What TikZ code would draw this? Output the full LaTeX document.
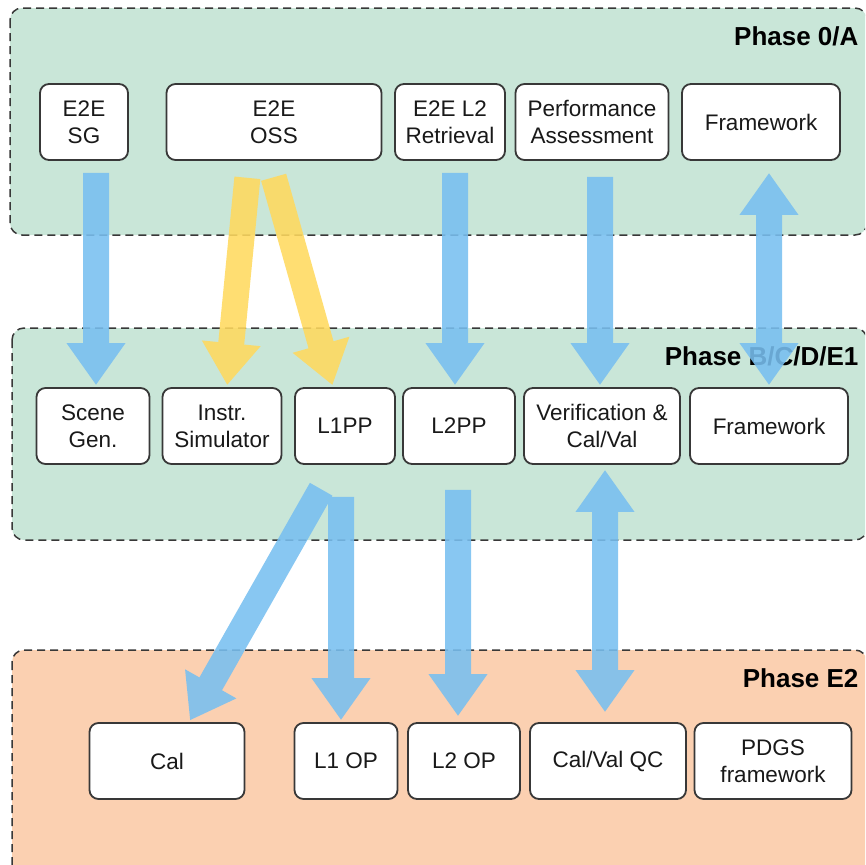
\documentclass[tikz,border=0pt]{standalone}
\usepackage{fontspec}
\setmainfont{Liberation Sans}
\usetikzlibrary{arrows.meta,calc}
\definecolor{phasegreen}{HTML}{C9E6D8}
\definecolor{phaseorange}{HTML}{FBD0B1}
\definecolor{flowblue}{HTML}{78BFF0}
\definecolor{flowyellow}{HTML}{FFD95E}
\definecolor{edgegray}{HTML}{383838}
\begin{document}
\begin{tikzpicture}[x=1pt,y=-1pt,
        phase/.style={draw=edgegray, line width=1.5pt, dash pattern=on 8pt off 5pt, rounded corners=12pt},
        block/.style={draw=edgegray, fill=white, line width=1.8pt, rounded corners=9pt, align=center,
            inner sep=0pt, minimum height=76pt, text=black!90, font=\fontsize{22.5}{27}\selectfont},
        phaselabel/.style={anchor=east, font=\fontsize{26}{30}\selectfont\bfseries},
        flow/.style={draw=flowblue, line width=26pt, shorten <=12pt, shorten >=2pt,
            -{Triangle[width=56pt,length=42pt]}},
        flowboth/.style={flow, {Triangle[width=56pt,length=42pt]}-{Triangle[width=56pt,length=42pt]}},
        sunny/.style={flow, draw=flowyellow, shorten <=17pt}]
            \useasboundingbox ( 0, 0 ) rectangle ( 865, 865 );
            \clip ( 0, 0 ) rectangle ( 865, 865 );

            % фазы
            \draw [phase, fill=phasegreen] ( 10, 8 ) rectangle ( 867, 235 );
            \draw [phase, fill=phasegreen] ( 12, 328 ) rectangle ( 867, 540 );
            \draw [phase, fill=phaseorange] ( 12, 650 ) rectangle ( 867, 885 );
            \node [phaselabel] (phaseA) at ( 862, 36 ) {Phase 0/A};
            \node [phaselabel] (phaseB) at ( 862, 356 ) {Phase B/C/D/E1};
            \node [phaselabel] (phaseE) at ( 862, 678 ) {Phase E2};

            % блоки 0/A
            \node [block, minimum width=88pt] (sg) at ( 84, 122 ) {E2E\\SG};
            \node [block, minimum width=215pt] (oss) at ( 274, 122 ) {E2E\\OSS};
            \node [block, minimum width=110pt] (l2r) at ( 450, 122 ) {E2E L2\\Retrieval};
            \node [block, minimum width=153pt] (perf) at ( 592, 122 ) {Performance\\Assessment};
            \node [block, minimum width=158pt] (fw0) at ( 761, 122 ) {Framework};

            % блоки B/C/D/E1
            \node [block, minimum width=113pt] (scene) at ( 93, 426 ) {Scene\\Gen.};
            \node [block, minimum width=119pt] (instr) at ( 222, 426 ) {Instr.\\Simulator};
            \node [block, minimum width=100pt] (lpp) at ( 345, 426 ) {L1PP};
            \node [block, minimum width=112pt] (ltwopp) at ( 459, 426 ) {L2PP};
            \node [block, minimum width=156pt] (verif) at ( 602, 426 ) {Verification \&\\Cal/Val};
            \node [block, minimum width=158pt] (fw1) at ( 769, 426 ) {Framework};

            % блоки E2
            \node [block, minimum width=155pt] (cal) at ( 167, 761 ) {Cal};
            \node [block, minimum width=103pt] (lop) at ( 346, 761 ) {L1 OP};
            \node [block, minimum width=112pt] (ltwoop) at ( 464, 761 ) {L2 OP};
            \node [block, minimum width=156pt] (cvqc) at ( 608, 761 ) {Cal/Val QC};
            \node [block, minimum width=157pt] (pdgs) at ( 773, 761 ) {PDGS\\framework};

            % стрелки
            \begin{scope}[transparency group, opacity=.88]
                \draw [flow] ( $ (sg.south -| scene) + ( 3, 0 ) $ ) -- ( $ (scene.north) + ( 3, 0 ) $ );
                \draw [sunny] ( $ (oss.south) + ( -5, 0 ) $ ) -- ( $ (lpp.north) + ( -12, 0 ) $ );
                \draw [sunny] ( $ (oss.south) + ( -25, 0 ) $ ) -- ( $ (instr.north) + ( 5, 0 ) $ );
                \draw [flow] ( $ (l2r.south) + ( 5, 0 ) $ ) -- ( $ (l2r.south |- ltwopp.north) + ( 5, 0 ) $ );
                \draw [flow, shorten <=16pt] ( $ (perf.south -| verif) + ( -2, 0 ) $ ) -- ( $ (verif.north) + ( -2, 0 ) $ );
                \draw [flowboth] (fw0.south -| fw1) -- (fw1.north);

                \draw [flow, shorten <=28pt] ( $ (lpp.south) + ( -10, 0 ) $ ) -- ( $ (cal.north) + ( 22, 0 ) $ );
                \draw [flow, shorten <=32pt] ( $ (lpp.south) + ( -4, 0 ) $ ) -- ( $ (lop.north) + ( -5, 0 ) $ );
                \draw [flow, shorten <=25pt, shorten >=6pt] ( $ (ltwopp.south) + ( -1, 0 ) $ ) -- ( $ (ltwopp.south |- ltwoop.north) + ( -1, 0 ) $ );
                \draw [flowboth, shorten <=5pt, shorten >=10pt] ( $ (verif.south -| cvqc) + ( -3, 0 ) $ ) -- ( $ (cvqc.north) + ( -3, 0 ) $ );
            \end{scope}
        \end{tikzpicture}
\end{document}
